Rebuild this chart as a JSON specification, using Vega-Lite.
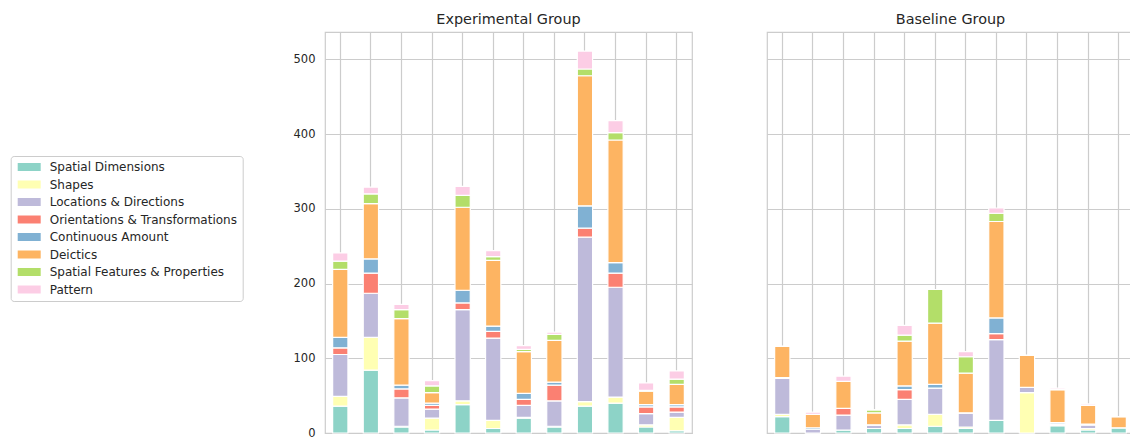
{
  "$schema": "https://vega.github.io/schema/vega-lite/v6.json",
  "padding": {"left": 10, "top": 11, "right": 0, "bottom": 0},
  "background": "white",
  "data": {"values": [
    {"g": "Experimental Group", "i": 1, "Spatial Dimensions": 36, "Shapes": 13, "Locations & Directions": 56, "Orientations & Transformations": 9, "Continuous Amount": 14, "Deictics": 91, "Spatial Features & Properties": 11, "Pattern": 11},
    {"g": "Experimental Group", "i": 2, "Spatial Dimensions": 84, "Shapes": 44, "Locations & Directions": 59, "Orientations & Transformations": 27, "Continuous Amount": 19, "Deictics": 74, "Spatial Features & Properties": 13, "Pattern": 9},
    {"g": "Experimental Group", "i": 3, "Spatial Dimensions": 8, "Shapes": 1, "Locations & Directions": 38, "Orientations & Transformations": 12, "Continuous Amount": 5, "Deictics": 89, "Spatial Features & Properties": 12, "Pattern": 7},
    {"g": "Experimental Group", "i": 4, "Spatial Dimensions": 4, "Shapes": 16, "Locations & Directions": 12, "Orientations & Transformations": 5, "Continuous Amount": 3, "Deictics": 14, "Spatial Features & Properties": 9, "Pattern": 7},
    {"g": "Experimental Group", "i": 5, "Spatial Dimensions": 38, "Shapes": 5, "Locations & Directions": 122, "Orientations & Transformations": 9, "Continuous Amount": 17, "Deictics": 111, "Spatial Features & Properties": 16, "Pattern": 12},
    {"g": "Experimental Group", "i": 6, "Spatial Dimensions": 6, "Shapes": 11, "Locations & Directions": 110, "Orientations & Transformations": 9, "Continuous Amount": 7, "Deictics": 88, "Spatial Features & Properties": 5, "Pattern": 8},
    {"g": "Experimental Group", "i": 7, "Spatial Dimensions": 20, "Shapes": 1, "Locations & Directions": 16, "Orientations & Transformations": 8, "Continuous Amount": 8, "Deictics": 56, "Spatial Features & Properties": 3, "Pattern": 5},
    {"g": "Experimental Group", "i": 8, "Spatial Dimensions": 8, "Shapes": 1, "Locations & Directions": 34, "Orientations & Transformations": 21, "Continuous Amount": 4, "Deictics": 56, "Spatial Features & Properties": 8, "Pattern": 3},
    {"g": "Experimental Group", "i": 9, "Spatial Dimensions": 36, "Shapes": 6, "Locations & Directions": 220, "Orientations & Transformations": 12, "Continuous Amount": 30, "Deictics": 174, "Spatial Features & Properties": 9, "Pattern": 24},
    {"g": "Experimental Group", "i": 10, "Spatial Dimensions": 40, "Shapes": 8, "Locations & Directions": 147, "Orientations & Transformations": 19, "Continuous Amount": 14, "Deictics": 164, "Spatial Features & Properties": 10, "Pattern": 16},
    {"g": "Experimental Group", "i": 11, "Spatial Dimensions": 8, "Shapes": 3, "Locations & Directions": 15, "Orientations & Transformations": 9, "Continuous Amount": 3, "Deictics": 18, "Spatial Features & Properties": 1, "Pattern": 10},
    {"g": "Experimental Group", "i": 12, "Spatial Dimensions": 3, "Shapes": 18, "Locations & Directions": 7, "Orientations & Transformations": 7, "Continuous Amount": 3, "Deictics": 27, "Spatial Features & Properties": 7, "Pattern": 11},
    {"g": "Baseline Group", "i": 1, "Spatial Dimensions": 22, "Shapes": 3, "Locations & Directions": 48, "Orientations & Transformations": 0, "Continuous Amount": 1, "Deictics": 42, "Spatial Features & Properties": 0, "Pattern": 0},
    {"g": "Baseline Group", "i": 2, "Spatial Dimensions": 0, "Shapes": 0, "Locations & Directions": 5, "Orientations & Transformations": 0, "Continuous Amount": 2, "Deictics": 18, "Spatial Features & Properties": 0, "Pattern": 3},
    {"g": "Baseline Group", "i": 3, "Spatial Dimensions": 4, "Shapes": 0, "Locations & Directions": 20, "Orientations & Transformations": 9, "Continuous Amount": 0, "Deictics": 36, "Spatial Features & Properties": 0, "Pattern": 7},
    {"g": "Baseline Group", "i": 4, "Spatial Dimensions": 6, "Shapes": 0, "Locations & Directions": 5, "Orientations & Transformations": 0, "Continuous Amount": 0, "Deictics": 16, "Spatial Features & Properties": 4, "Pattern": 0},
    {"g": "Baseline Group", "i": 5, "Spatial Dimensions": 6, "Shapes": 5, "Locations & Directions": 34, "Orientations & Transformations": 13, "Continuous Amount": 5, "Deictics": 60, "Spatial Features & Properties": 8, "Pattern": 13},
    {"g": "Baseline Group", "i": 6, "Spatial Dimensions": 9, "Shapes": 16, "Locations & Directions": 35, "Orientations & Transformations": 0, "Continuous Amount": 5, "Deictics": 82, "Spatial Features & Properties": 45, "Pattern": 0},
    {"g": "Baseline Group", "i": 7, "Spatial Dimensions": 6, "Shapes": 2, "Locations & Directions": 19, "Orientations & Transformations": 0, "Continuous Amount": 0, "Deictics": 53, "Spatial Features & Properties": 22, "Pattern": 7},
    {"g": "Baseline Group", "i": 8, "Spatial Dimensions": 17, "Shapes": 0, "Locations & Directions": 108, "Orientations & Transformations": 8, "Continuous Amount": 21, "Deictics": 129, "Spatial Features & Properties": 11, "Pattern": 7},
    {"g": "Baseline Group", "i": 9, "Spatial Dimensions": 0, "Shapes": 54, "Locations & Directions": 7, "Orientations & Transformations": 0, "Continuous Amount": 0, "Deictics": 43, "Spatial Features & Properties": 0, "Pattern": 0},
    {"g": "Baseline Group", "i": 10, "Spatial Dimensions": 10, "Shapes": 0, "Locations & Directions": 2, "Orientations & Transformations": 0, "Continuous Amount": 2, "Deictics": 44, "Spatial Features & Properties": 0, "Pattern": 2},
    {"g": "Baseline Group", "i": 11, "Spatial Dimensions": 4, "Shapes": 2, "Locations & Directions": 5, "Orientations & Transformations": 0, "Continuous Amount": 1, "Deictics": 25, "Spatial Features & Properties": 0, "Pattern": 2},
    {"g": "Baseline Group", "i": 12, "Spatial Dimensions": 7, "Shapes": 0, "Locations & Directions": 0, "Orientations & Transformations": 0, "Continuous Amount": 0, "Deictics": 15, "Spatial Features & Properties": 0, "Pattern": 0}
  ]},
  "transform": [
    {"fold": ["Spatial Dimensions", "Shapes", "Locations & Directions", "Orientations & Transformations", "Continuous Amount", "Deictics", "Spatial Features & Properties", "Pattern"], "as": ["cat", "v"]},
    {"calculate": "indexof(['Spatial Dimensions','Shapes','Locations & Directions','Orientations & Transformations','Continuous Amount','Deictics','Spatial Features & Properties','Pattern'], datum.cat)", "as": "k"}
  ],
  "facet": {
    "column": {"field": "g", "type": "nominal", "sort": ["Experimental Group", "Baseline Group"], "title": null,
      "header": {"labelFontSize": 14.4, "labelFont": "DejaVu Sans", "labelColor": "#262626", "labelPadding": 4, "labelOrient": "top"}}
  },
  "spacing": 73,
  "spec": {
    "width": 367,
    "height": 401,
    "mark": {"type": "bar", "stroke": "white", "strokeWidth": 1.2, "opacity": 1},
    "encoding": {
      "x": {"field": "i", "type": "ordinal", "scale": {"paddingInner": 0.5, "paddingOuter": 0.25},
        "axis": {"title": null, "labels": false, "ticks": false, "domain": false, "grid": true, "gridColor": "#cccccc", "gridWidth": 1.2}},
      "y": {"field": "v", "type": "quantitative", "aggregate": "sum", "stack": "zero", "scale": {"domain": [0, 536.5], "nice": false},
        "axis": {"title": null, "values": [0, 100, 200, 300, 400, 500], "ticks": false, "domain": false, "grid": true, "gridColor": "#cccccc", "gridWidth": 1.2,
          "labelFont": "DejaVu Sans", "labelFontSize": 11.5, "labelColor": "#262626", "labelPadding": 9}},
      "color": {"field": "cat", "type": "nominal",
        "scale": {"domain": ["Spatial Dimensions", "Shapes", "Locations & Directions", "Orientations & Transformations", "Continuous Amount", "Deictics", "Spatial Features & Properties", "Pattern"],
          "range": ["#8dd3c7", "#ffffb3", "#bebada", "#fb8072", "#80b1d3", "#fdb462", "#b3de69", "#fccde5"]},
        "legend": {"title": null, "orient": "none", "legendX": -314.3, "legendY": 124,
          "symbolType": "M-1,-1H4.75V1H-1Z", "symbolSize": 64, "symbolStrokeWidth": 0, "symbolOpacity": 1,
          "labelFont": "DejaVu Sans", "labelFontSize": 12, "labelColor": "#262626", "labelOffset": 22,
          "rowPadding": 5.5, "padding": 5, "strokeColor": "#cccccc", "cornerRadius": 3, "fillColor": "white", "labelLimit": 300}},
      "order": {"field": "k", "type": "quantitative"}
    }
  },
  "config": {
    "view": {"stroke": "#cccccc", "strokeWidth": 1.2},
    "font": "DejaVu Sans"
  }
}
